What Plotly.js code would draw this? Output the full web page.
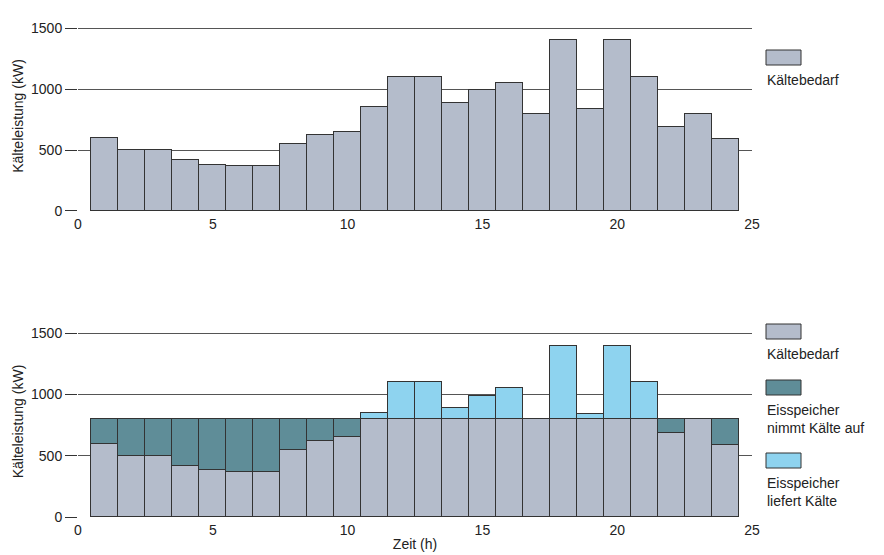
<!DOCTYPE html>
<html>
<head>
<meta charset="utf-8">
<script src="https://cdn.plot.ly/plotly-3.0.1.min.js"></script>
<style>body{margin:0;background:#fff}#chart{width:884px;height:555px}</style>
</head>
<body>
<div id="chart"></div>
<script>
// hours (bar centers) and cooling demand in kW
var hours = [1,2,3,4,5,6,7,8,9,10,11,12,13,14,15,16,17,18,19,20,21,22,23,24]
var demand = [600,500,500,420,380,370,370,550,620,650,850,1100,1100,890,990,1050,800,1400,840,1400,1100,690,800,590]
// bottom chart split at the 800 kW chiller level
var demandBase = [600,500,500,420,380,370,370,550,620,650,800,800,800,800,800,800,800,800,800,800,800,690,800,590]
var charging = [200,300,300,380,420,430,430,250,180,150,0,0,0,0,0,0,0,0,0,0,0,110,0,210]
var supplying = [0,0,0,0,0,0,0,0,0,0,50,300,300,90,190,250,0,600,40,600,300,0,0,0]
var legendNames = ['Kältebedarf', 'Eisspeicher<br>nimmt Kälte auf', 'Eisspeicher<br>liefert Kälte']

var grey = '#b4bccb', dark = '#5f8d98', light = '#8ed3ef', edge = '#333'
var ln = {color: edge, width: 1}

var data = [
  {type: 'bar', x: hours, y: demand, width: 1, name: legendNames[0],
   marker: {color: grey, line: ln}, xaxis: 'x', yaxis: 'y'},
  {type: 'bar', x: hours, y: demandBase, width: 1, name: legendNames[0],
   marker: {color: grey, line: ln}, xaxis: 'x2', yaxis: 'y2'},
  {type: 'bar', x: hours, y: charging, width: 1, name: legendNames[1],
   marker: {color: dark, line: ln}, xaxis: 'x2', yaxis: 'y2'},
  {type: 'bar', x: hours, y: supplying, width: 1, name: legendNames[2],
   marker: {color: light, line: ln}, xaxis: 'x2', yaxis: 'y2'}
]

function xa(extra) {
  return Object.assign({range: [0, 25], tickvals: [0,5,10,15,20,25], ticks: 'outside',
    ticklen: 0, showgrid: false, zeroline: false, showline: false,
    tickfont: {size: 14, color: '#222'}}, extra)
}
function ya(extra) {
  return Object.assign({range: [0, 1560], tickvals: [0,500,1000,1500], ticks: 'outside',
    ticklen: 12, tickcolor: '#333', showgrid: true, gridcolor: '#555', gridwidth: 1,
    zeroline: false, showline: false, tickfont: {size: 14, color: '#222'},
    title: {text: 'Kälteleistung (kW)', font: {size: 14, color: '#222'}, standoff: 4}}, extra)
}

// hand-placed legend: swatch above label, in page pixels
var L = 78, W = 674, B = 517, H = 496
function px(x) { return (x - L) / W }
function py(y) { return (B - y) / H }
var legendItems = [
  {color: grey, top: 50, text: legendNames[0], ty: 70},
  {color: grey, top: 324, text: legendNames[0], ty: 344},
  {color: dark, top: 380, text: legendNames[1], ty: 400},
  {color: light, top: 453, text: legendNames[2], ty: 473}
]
var shapes = [], annotations = []
legendItems.forEach(function (it) {
  shapes.push({type: 'rect', xref: 'paper', yref: 'paper', x0: px(766), x1: px(801),
    y0: py(it.top + 15), y1: py(it.top), fillcolor: it.color, line: {color: edge, width: 1}})
  annotations.push({xref: 'paper', yref: 'paper', x: px(765), y: py(it.ty), xanchor: 'left',
    yanchor: 'top', align: 'left', showarrow: false, text: it.text, font: {size: 14, color: '#222'}})
})

var layout = {
  width: 884, height: 555,
  margin: {l: 78, r: 132, t: 21, b: 38},
  paper_bgcolor: '#fff', plot_bgcolor: '#fff',
  font: {family: 'Liberation Sans, Arial, sans-serif', color: '#222'},
  barmode: 'stack', bargap: 0, showlegend: false,
  xaxis: xa({domain: [0, 1], anchor: 'y'}),
  yaxis: ya({domain: [0.617, 1], anchor: 'x'}),
  xaxis2: xa({domain: [0, 1], anchor: 'y2',
    title: {text: 'Zeit (h)', font: {size: 14, color: '#222'}, standoff: 2}}),
  yaxis2: ya({domain: [0, 0.385], anchor: 'x2'}),
  shapes: shapes, annotations: annotations
}

Plotly.newPlot('chart', data, layout, {displayModeBar: false})
</script>
</body>
</html>
